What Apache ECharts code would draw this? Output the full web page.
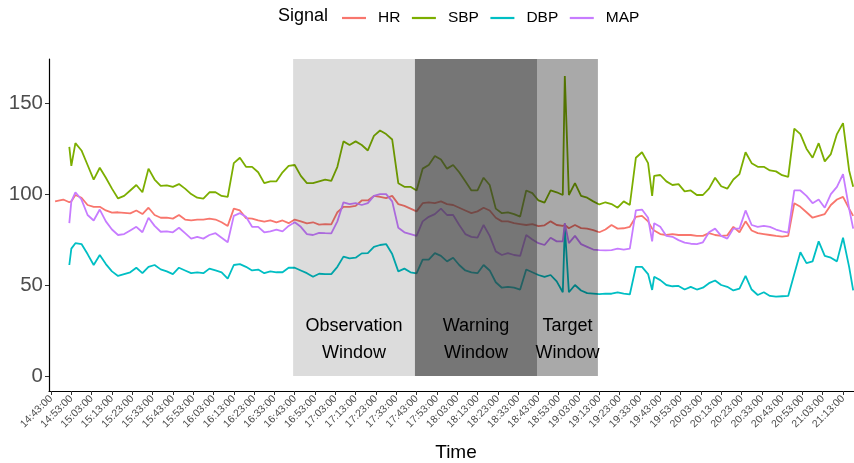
<!DOCTYPE html>
<html><head><meta charset="utf-8">
<script src="https://cdn.jsdelivr.net/npm/echarts@6/dist/echarts.min.js"></script>
<style>html,body{margin:0;padding:0;background:#fff}#c{width:854px;height:463px}</style>
</head><body><div id="c"></div>
<script>
// minutes after 14:43:00
const minutes = [2,6,9,10,12,15,18,21,24,27,30,33,36,39,42,45,48,51,54,57,60,63,66,69,72,75,78,81,84,87,90,93,96,99,102,105,108,111,114,117,120,123,126,129,132,135,138,141,144,147,150,153,156,159,162,165,168,171,174,177,180,183,186,189,192,195,198,201,204,207,210,213,216,219,222,225,228,231,234,237,240,243,246,249,252,253,255,258,261,264,267,270,273,276,279,282,285,288,291,294,296,297,300,303,306,309,312,315,318,321,324,327,330,333,336,339,342,345,348,351,354,357,360,363,366,369,372,375,378,381,384,387,390,393,395];
const hr = [96,97,95.5,96,99.5,98,94,93,93,91,89.8,90,89.7,89.4,91,89,92.5,88.5,87,87,86.5,88.5,86,85.5,86,86,86.5,86,84.5,82.5,92,91,86.8,86.5,85.5,84.8,85.5,84.5,85.5,84,86,85,83.9,84.5,83.2,83.5,83.3,90,93,93,93.5,96.5,96.5,99,98.5,97.8,99,94.5,93.5,92,90.5,95,95.5,95,96,94.5,94,92.5,91,89.5,90.5,92.5,91,87,85,85,84,83.5,83,83.5,82.4,82.8,85,83,82.5,83,81.2,83,81.3,81,80.2,79,80.5,83,81,81.2,82,87.5,88,85,81,80,78,77.5,78,77.5,77.5,77.5,77,77,78.5,77.5,77,77.3,82,79,85,80,78.5,78,77.5,77,76.6,77,95,93,90,87,88,89,94,97,98.5,92,88];
const sbp = [null,null,126,115.5,128,124,116,108,114.5,109,103,97.6,99,102,105,101,114,108,104.5,104.8,104,105.5,103,100,98,97.5,101,101,99,98.5,117,120,115,115,112,106,107,107,112,115.5,116,110,106,106,107,108,107.3,115,129,127,129,127,124,132,135,133,130,106,104,104,102,114,116,121,119,114,116,112,107,102,102,109,105,92,89.5,90,89,87.6,102,100.5,96.5,95.3,102,101,99.5,165,99.5,106,99,98,96,94.3,95.5,94.5,92.5,96,94,120,123,117,99,110,110.5,107,105,105.5,101.5,102,99.5,99.5,103,109,104.3,103,108,111,123,117,115,115,113,112.5,110.4,109.5,136,133,125,120,128,118,122,133,139,113,104];
const dbp = [null,null,61,70,73,72.5,67,61,66.5,61.5,57.5,55,56,57,59.5,56.5,60,61,58.6,57.5,56,59.5,58,56.5,57,56.5,59,58,57,53.5,61,61.5,60,58,58.5,56.5,57.5,57,57,59.5,59.5,58,56.5,54.5,56.2,56,56,60,65.6,64.7,65,67.4,67.5,71,72,72.5,67,57.5,59,57,56.4,64,64,67.5,66,63,65,61,58,57,56.5,61,58,51.5,48.5,49,48.5,47.5,58.5,57,55.5,54.5,55.5,52,46,82,46,50,47,45.5,45.3,45,45.3,45.2,46,45.3,44.8,60,60,56,47.3,54.5,52.7,50,49.3,49.5,47.5,49,47.5,48.5,51,52.5,50,49,47,48,55,47.5,44.5,46,44,43.6,43.8,44,56,68,62,63,74,66,65,63,76,60,47];
const mapv = [null,null,84,96,101,97,88.5,85.5,91.5,85,80.5,77.5,78,80,82,79,87,82.5,79.3,79.5,79,81.5,78.5,75.5,76.5,75.5,77.5,78.5,76,73.5,88,89.5,87.5,82,82,79,79.5,80.5,79.5,82.5,84.5,82,78,77.5,78.7,78.5,78.4,85,95.5,94.5,95,94,95,99,100,100,96,81.5,79,78,77,85,87.5,89,92,88.5,88.5,83,78,76.5,76,83,77,68.5,66.5,67.5,66.5,66,77.5,75,73,72,76,74,74,84,73,77,72.5,71,69.5,69.2,69,69.2,70,69.5,70,91,91.5,87,74,84,82,77,76.5,74.7,73.3,72.7,72.5,73.5,79,81,77,75.5,81,81,91,83,82,82.5,82,80.5,79.5,78.8,102,102,99,95,97,92.5,100,104,111,92,81];

const seriesNames = ['HR','SBP','DBP','MAP'];
const seriesColors = ['#F8766D','#7CAE00','#00BFC4','#C77CFF'];
const seriesValues = [hr, sbp, dbp, mapv];

const yTicks = [0, 50, 100, 150];
const xTickLabels = ['14:43:00','14:53:00','15:03:00','15:13:00','15:23:00','15:33:00','15:43:00','15:53:00','16:03:00','16:13:00','16:23:00','16:33:00','16:43:00','16:53:00','17:03:00','17:13:00','17:23:00','17:33:00','17:43:00','17:53:00','18:03:00','18:13:00','18:23:00','18:33:00','18:43:00','18:53:00','19:03:00','19:13:00','19:23:00','19:33:00','19:43:00','19:53:00','20:03:00','20:13:00','20:23:00','20:33:00','20:43:00','20:53:00','21:03:00','21:13:00'];

const windowNames = ['Observation\nWindow','Warning\nWindow','Target\nWindow'];
const windowStart = [119.2, 179.2, 239.3];
const windowEnd = [179.2, 239.3, 269.3];
const windowColors = ['rgba(0,0,0,0.137)','rgba(50,50,50,0.67)','rgba(0,0,0,0.337)'];

const BASE = 14*60+43;
function toMin(lbl){ const p = lbl.split(':'); return (+p[0])*60 + (+p[1]) - BASE; }
const xTickVals = xTickLabels.map(toMin);
const labelByMin = {}; xTickLabels.forEach((l,i)=>{ labelByMin[xTickVals[i]] = l; });

const YMIN = -8.3, YMAX = 174.3;
const FONT = '"Liberation Sans", Arial, Helvetica, sans-serif';

const lineSeries = seriesNames.map((n,k)=>({
  name:n, type:'line', symbol:'none', z:3,
  data: minutes.map((m,i)=>[m, seriesValues[k][i]]),
  lineStyle:{color:seriesColors[k], width:1.8},
  itemStyle:{color:seriesColors[k]},
  animation:false
}));

const windowSeries = {
  type:'custom', name:'windows', z:10, silent:true, animation:false,
  data: windowNames.map((n,i)=>[windowStart[i], windowEnd[i], i]),
  renderItem:function(params, api){
    const i = api.value(2);
    const p0 = api.coord([api.value(0), 0]);
    const p1 = api.coord([api.value(1), YMAX]);
    const cx = (p0[0]+p1[0])/2;
    return {type:'group', children:[
      {type:'rect', shape:{x:p0[0], y:p1[1], width:p1[0]-p0[0], height:p0[1]-p1[1]}, style:{fill:windowColors[i]}},
      {type:'text', style:{x:cx, y:p0[1]-36, text:windowNames[i], align:'center', verticalAlign:'middle', fontSize:18, lineHeight:27, fill:'#000', fontFamily:FONT}}
    ]};
  }
};

const chart = echarts.init(document.getElementById('c'), null, {renderer:'canvas'});
chart.setOption({
  animation:false,
  backgroundColor:'#fff',
  textStyle:{fontFamily:FONT},
  grid:{left:49, right:0, top:59, bottom:72, containLabel:false, outerBoundsMode:'none'},
  legend:{
    data:seriesNames, left:342, top:10, padding:0, icon:'rect', itemWidth:24, itemHeight:2.2, itemGap:11.5,
    textStyle:{fontSize:15.5, color:'#000', fontFamily:FONT, padding:[0,0,0,7]}
  },
  graphic:[{type:'text', left:278, top:7, style:{text:'Signal', fontSize:18, fill:'#000', fontFamily:FONT}}],
  xAxis:{
    type:'value', min:-1, max:395.4,
    name:'Time', nameLocation:'middle', nameGap:52,
    nameTextStyle:{fontSize:19, color:'#000', fontFamily:FONT, padding:[0,0,0,9]},
    axisLine:{onZero:false, lineStyle:{color:'#000', width:1.2}},
    axisTick:{customValues:xTickVals, length:4, lineStyle:{color:'#333'}},
    axisLabel:{customValues:xTickVals, rotate:45, fontSize:10.5, color:'#4d4d4d', margin:6, fontFamily:FONT,
      formatter:function(v){ return labelByMin[Math.round(v)] || ''; }},
    splitLine:{show:false}
  },
  yAxis:{
    type:'value', min:YMIN, max:YMAX,
    axisLine:{show:true, onZero:false, lineStyle:{color:'#000', width:1.2}},
    axisTick:{show:true, customValues:yTicks, length:4, lineStyle:{color:'#333'}},
    axisLabel:{customValues:yTicks, fontSize:20.5, color:'#4d4d4d', margin:6, fontFamily:FONT},
    splitLine:{show:false}
  },
  series: lineSeries.concat([windowSeries])
});
</script></body></html>
